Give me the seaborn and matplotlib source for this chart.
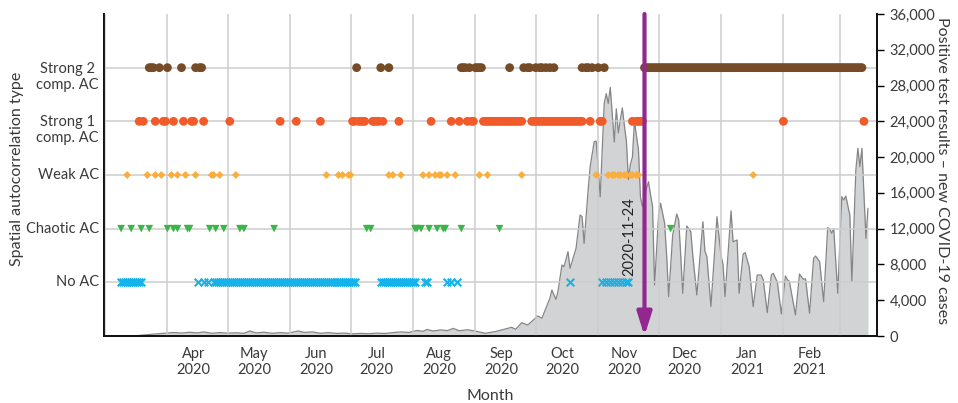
import numpy as np
import pandas as pd
import matplotlib
matplotlib.use("Agg")
import matplotlib.pyplot as plt
from matplotlib.ticker import FuncFormatter
from matplotlib.transforms import ScaledTranslation
import seaborn as sns

# ---------------------------------------------------------------- data
categories = ["No AC", "Chaotic AC", "Weak AC", "Strong 1\ncomp. AC", "Strong 2\ncomp. AC"]

# days on which each autocorrelation type was observed;
# a (start, end) pair stands for every day of that stretch
no_ac_days = [("2020-03-09", "2020-03-19"), "2020-04-16", "2020-04-19", "2020-04-21",
              ("2020-04-24", "2020-07-03"), ("2020-07-16", "2020-08-02"),
              "2020-08-07", "2020-08-08", "2020-08-18", "2020-08-20", "2020-08-23",
              "2020-10-18", "2020-11-03", "2020-11-05", "2020-11-07", "2020-11-09",
              "2020-11-11", "2020-11-13", "2020-11-15", "2020-11-16"]

chaotic_days = ["2020-03-09", "2020-03-14", "2020-03-19", "2020-03-23", "2020-04-01",
                "2020-04-04", "2020-04-06", "2020-04-11", "2020-04-12", "2020-04-22",
                "2020-04-25", "2020-04-29", "2020-05-07", "2020-05-09", "2020-05-24",
                "2020-07-09", "2020-07-11", "2020-08-02", "2020-08-03", "2020-08-05",
                "2020-08-09", "2020-08-13", "2020-08-16", "2020-08-17", "2020-08-25",
                "2020-09-13", "2020-12-07"]

weak_days = ["2020-03-12", "2020-03-22", "2020-03-26", "2020-03-29", "2020-04-03",
             "2020-04-06", "2020-04-10", "2020-04-15", "2020-04-23", "2020-04-24",
             "2020-04-27", "2020-05-05", "2020-06-19", "2020-06-25", "2020-06-27",
             "2020-06-30", "2020-07-01", "2020-07-20", "2020-07-22", "2020-07-26",
             "2020-08-06", "2020-08-09", "2020-08-12", "2020-08-14", "2020-08-15",
             "2020-08-18", "2020-08-22", "2020-09-03", "2020-09-07", "2020-09-24",
             "2020-10-31", "2020-11-06", "2020-11-08", "2020-11-09", "2020-11-11",
             "2020-11-12", "2020-11-14", "2020-11-15", "2020-11-17", "2020-11-18",
             "2020-11-20", "2020-11-21", "2021-01-17"]

strong1_days = ["2020-03-18", "2020-03-20", "2020-03-26", "2020-03-30", "2020-03-31",
                "2020-04-04", "2020-04-09", "2020-04-13", "2020-04-14", "2020-04-19",
                "2020-05-02", "2020-05-27", "2020-06-04", "2020-06-16",
                "2020-07-02", "2020-07-03", "2020-07-05", "2020-07-06", "2020-07-07",
                "2020-07-08", "2020-07-12", "2020-07-13", "2020-07-14", "2020-07-15",
                "2020-07-17", "2020-07-25", "2020-08-10", "2020-08-20", "2020-08-24",
                "2020-08-28", "2020-08-30", "2020-08-31",
                ("2020-09-05", "2020-09-24"), ("2020-09-29", "2020-10-24"),
                "2020-10-28", "2020-11-02", "2020-11-03",
                "2020-11-18", "2020-11-20", "2020-11-21", "2020-11-22", "2020-11-23",
                "2021-02-01", "2021-03-13"]

strong2_days = ["2020-03-23", "2020-03-24", "2020-03-25", "2020-03-28", "2020-04-01",
                "2020-04-08", "2020-04-15", "2020-04-17", "2020-04-18",
                "2020-07-04", "2020-07-16", "2020-07-20",
                "2020-08-25", "2020-08-26", "2020-08-27", "2020-08-29", "2020-09-01",
                "2020-09-02", "2020-09-03", "2020-09-04", "2020-09-18", "2020-09-25",
                "2020-09-27", "2020-09-28", "2020-10-01", "2020-10-03", "2020-10-04",
                "2020-10-06", "2020-10-08", "2020-10-10", "2020-10-24", "2020-10-26",
                "2020-10-27", "2020-10-29", "2020-11-01", "2020-11-04",
                ("2020-11-24", "2021-03-12")]

# daily positive test results (vertices of the curve)
case_dates = ["2020-03-04", "2020-03-11", "2020-03-17", "2020-03-21", "2020-03-26", "2020-03-31",
              "2020-04-04", "2020-04-08", "2020-04-12", "2020-04-16", "2020-04-19", "2020-04-23",
              "2020-04-27", "2020-05-01", "2020-05-05", "2020-05-09", "2020-05-12", "2020-05-15",
              "2020-05-19", "2020-05-23", "2020-05-27", "2020-05-31", "2020-06-05", "2020-06-08",
              "2020-06-12", "2020-06-16", "2020-06-20", "2020-06-24", "2020-06-28", "2020-07-02",
              "2020-07-06", "2020-07-10", "2020-07-14", "2020-07-18", "2020-07-22", "2020-07-26",
              "2020-07-30", "2020-08-03", "2020-08-06", "2020-08-08", "2020-08-11", "2020-08-15",
              "2020-08-18", "2020-08-21", "2020-08-24", "2020-08-28", "2020-09-01", "2020-09-06",
              "2020-09-11", "2020-09-19", "2020-09-21", "2020-09-24", "2020-09-27", "2020-10-02",
              "2020-10-04", "2020-10-08", "2020-10-09", "2020-10-11", "2020-10-12", "2020-10-14",
              "2020-10-15", "2020-10-17", "2020-10-18", "2020-10-21", "2020-10-23", "2020-10-24",
              "2020-10-25", "2020-10-27", "2020-10-28", "2020-10-30", "2020-10-31", "2020-11-02",
              "2020-11-04", "2020-11-05", "2020-11-06", "2020-11-07", "2020-11-08", "2020-11-09",
              "2020-11-10", "2020-11-11", "2020-11-12", "2020-11-13", "2020-11-14", "2020-11-15",
              "2020-11-16", "2020-11-17", "2020-11-18", "2020-11-19", "2020-11-20", "2020-11-21",
              "2020-11-22", "2020-11-23", "2020-11-24", "2020-11-25", "2020-11-26", "2020-11-27",
              "2020-11-28", "2020-11-29", "2020-12-01", "2020-12-02", "2020-12-04", "2020-12-05",
              "2020-12-06", "2020-12-08", "2020-12-10", "2020-12-11", "2020-12-12", "2020-12-13",
              "2020-12-15", "2020-12-17", "2020-12-18", "2020-12-20", "2020-12-23", "2020-12-24",
              "2020-12-25", "2020-12-27", "2020-12-30", "2021-01-01", "2021-01-02", "2021-01-03",
              "2021-01-06", "2021-01-07", "2021-01-09", "2021-01-10", "2021-01-12", "2021-01-13",
              "2021-01-15", "2021-01-17", "2021-01-19", "2021-01-21", "2021-01-22", "2021-01-24",
              "2021-01-26", "2021-01-27", "2021-01-29", "2021-01-31", "2021-02-02", "2021-02-03",
              "2021-02-04", "2021-02-07", "2021-02-09", "2021-02-10", "2021-02-11", "2021-02-12",
              "2021-02-14", "2021-02-16", "2021-02-17", "2021-02-19", "2021-02-21", "2021-02-23",
              "2021-02-24", "2021-02-25", "2021-02-26", "2021-02-28", "2021-03-02", "2021-03-03",
              "2021-03-04", "2021-03-06", "2021-03-07", "2021-03-09", "2021-03-10", "2021-03-11",
              "2021-03-12", "2021-03-14", "2021-03-15"]
case_values = [0, 10, 40, 130, 220, 300,
               390, 330, 420, 340, 460, 300,
               380, 320, 360, 300, 560, 350,
               420, 300, 380, 320, 560, 400,
               460, 300, 380, 290, 320, 240,
               290, 250, 320, 280, 380, 460,
               400, 620, 520, 730, 560, 680,
               600, 850, 580, 700, 550, 300,
               500, 970, 750, 1490, 1230, 2240,
               1980, 4210, 5140, 4100, 4950, 7940,
               7750, 9430, 7570, 9800, 13530, 13340,
               10360, 16320, 18930, 21720, 21790, 15570,
               26000, 27100, 26000, 27800, 24800, 21700,
               25400, 22700, 24200, 25500, 23500, 21800,
               17500, 19200, 20000, 24000, 22400, 20800,
               15500, 14500, 15300, 16500, 17250, 15800,
               14500, 5700, 13530, 14840, 12600, 9000,
               4400, 11290, 13640, 12970, 9000, 4770,
               12300, 11660, 9000, 4580, 12780, 9500,
               8870, 3300, 13340, 9000, 8000, 4400,
               14000, 10540, 10730, 4770, 9170, 9320,
               7750, 3280, 6820, 6820, 6260, 2610,
               6820, 7010, 6000, 2460, 6710, 6300,
               6070, 2350, 6930, 6600, 6340, 6400,
               2540, 8690, 8940, 8310, 3840, 12110,
               12000, 11480, 12000, 4770, 15570, 15200,
               15650, 13530, 6070, 18560, 20990, 18930,
               20990, 10920, 14280]

month_starts = ["2020-03-01", "2020-04-01", "2020-05-01", "2020-06-01", "2020-07-01",
                "2020-08-01", "2020-09-01", "2020-10-01", "2020-11-01", "2020-12-01",
                "2021-01-01", "2021-02-01", "2021-03-01"]
label_months = ["2020-04", "2020-05", "2020-06", "2020-07", "2020-08", "2020-09",
                "2020-10", "2020-11", "2020-12", "2021-01", "2021-02"]
month_labels = ["Apr\n2020", "May\n2020", "Jun\n2020", "Jul\n2020", "Aug\n2020", "Sep\n2020",
                "Oct\n2020", "Nov\n2020", "Dec\n2020", "Jan\n2021", "Feb\n2021"]
cases_ticks = [0, 4000, 8000, 12000, 16000, 20000, 24000, 28000, 32000, 36000]
event_date = "2020-11-24"


def expand(days):
    out = []
    for d in days:
        if isinstance(d, tuple):
            out.extend(pd.date_range(d[0], d[1], freq="D"))
        else:
            out.append(pd.Timestamp(d))
    return out


# ---------------------------------------------------------------- style
sns.set_theme(style="white")
plt.rcParams["font.family"] = ["Lato", "DejaVu Sans"]
text_color = "#3a3a3a"
grid_color = "#cdcdcd"

fig = plt.figure(figsize=(9.58, 4.03), dpi=100)
ax = fig.add_axes([104 / 958, 1 - 336 / 403, (877 - 104) / 958, (336 - 14) / 403])
ax2 = ax.twinx()
ax.set_zorder(ax2.get_zorder() + 1)
ax.patch.set_visible(False)

# ---------------------------------------------------------------- cases (right axis)
cases = pd.DataFrame({"date": pd.to_datetime(case_dates), "cases": case_values})
ax2.fill_between(cases["date"], cases["cases"], color="#d1d3d4", lw=0, zorder=1)
sns.lineplot(data=cases, x="date", y="cases", ax=ax2, color="#858585", lw=0.9, zorder=2)
ax2.set_ylim(0, 36000)
ax2.set_yticks(cases_ticks)
ax2.yaxis.set_major_formatter(FuncFormatter(lambda v, p: f"{int(v):,}"))
ax2.tick_params(axis="y", which="major", direction="out", length=5, width=1,
                color="black", labelcolor=text_color, labelsize=10.5, pad=4, right=True)
ax2.set_ylabel("Positive test results \u2013 new COVID-19 cases", rotation=270,
               fontsize=11.5, color=text_color, va="center", ha="center")
ax2.yaxis.set_label_coords((942 - 104) / 773, 0.513)

# ---------------------------------------------------------------- autocorrelation types
styles = [
    (no_ac_days, 0, dict(marker="x", s=30, color="#16b3ea", linewidth=1.5)),
    (chaotic_days, 1, dict(marker="v", s=30, color="#3cb44a", edgecolor="none")),
    (weak_days, 2, dict(marker="D", s=16, color="#fbae3c", edgecolor="none")),
    (strong1_days, 3, dict(marker="o", s=40, color="#f15a29", edgecolor="none")),
    (strong2_days, 4, dict(marker="o", s=40, color="#754c27", edgecolor="none")),
]
for days, level, kw in styles:
    df = pd.DataFrame({"date": expand(days)})
    df["level"] = level
    sns.scatterplot(data=df, x="date", y="level", ax=ax, legend=False, zorder=3, **kw)

ax.set_ylim(-1, 5)
ax.set_yticks(range(len(categories)))
ax.set_yticklabels([])
ax.tick_params(axis="y", length=0)
# category names: two-line names hang from their row, first line level with it
for level, name in enumerate(categories):
    dy = -9 if "\n" in name else 0
    tr = ax.get_yaxis_transform() + ScaledTranslation(-5 / 100, dy / 100, fig.dpi_scale_trans)
    ax.text(0, level, name, transform=tr, ha="right", va="center", multialignment="center",
            fontsize=10.5, color=text_color)

ax.set_xlim(pd.Timestamp("2020-02-29 12:00"), pd.Timestamp("2021-03-19 12:00"))
ax.set_xticks(pd.to_datetime(month_starts))
ax.set_xticklabels([""] * len(month_starts))
ax.set_xticks([pd.Timestamp(m + "-14") for m in label_months], minor=True)
ax.set_xticklabels(month_labels, minor=True)
ax.tick_params(axis="x", which="both", length=0, pad=8, labelsize=10.5, labelcolor=text_color)

ax.grid(axis="x", which="major", color=grid_color, lw=1.1)
ax.grid(axis="y", which="major", color=grid_color, lw=1.1)
ax.set_axisbelow(True)

ax.set_xlabel("Month", fontsize=11.5, color=text_color, va="center")
ax.xaxis.set_label_coords((490 - 104) / 773, (336 - 396) / 322)
ax.set_ylabel("Spatial autocorrelation type", fontsize=11.5, color=text_color,
              va="center", ha="center")
ax.yaxis.set_label_coords((17 - 104) / 773, 0.519)

for a in (ax, ax2):
    a.spines["top"].set_visible(False)
    for side in ("left", "right", "bottom"):
        a.spines[side].set_color("#111111")
        a.spines[side].set_linewidth(1.3)

# ---------------------------------------------------------------- event marker
ev = pd.Timestamp(event_date)
ax.annotate("", xy=(ev, -1), xytext=(ev, 5),
            arrowprops=dict(arrowstyle="-|>,head_length=0.7,head_width=0.22",
                            color="#92278f", lw=3, shrinkA=0, shrinkB=0,
                            mutation_scale=20),
            zorder=5, annotation_clip=False)
ax.annotate(event_date, xy=(ev, 0.85), xytext=(-11, 0), textcoords="offset points",
            rotation=90, ha="center", va="center", fontsize=10.5, color="#222222",
            zorder=5)

fig.savefig("out.png", dpi=100)
